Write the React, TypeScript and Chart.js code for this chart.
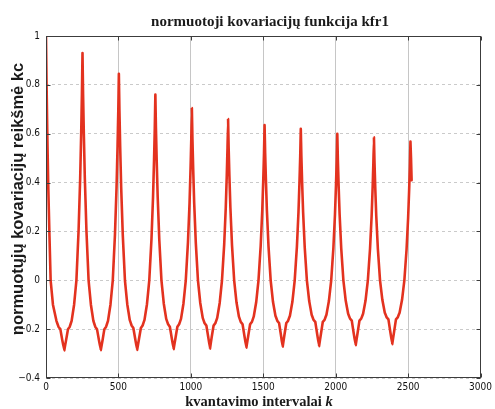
import { useEffect, useRef } from 'react';
import { Chart, registerables } from 'chart.js';

Chart.register(...registerables);

const chartTitle = 'normuotoji kovariacijų funkcija kfr1';
const xAxisLabel = 'kvantavimo intervalai ';
const xAxisVar = 'k';
const yAxisLabel = 'normuotųjų kovariacijų reikšmė kc';

const xTicks = [0, 500, 1000, 1500, 2000, 2500, 3000];
const yTicks = [-0.4, -0.2, 0, 0.2, 0.4, 0.6, 0.8, 1];
const yTickLabels = ['−0.4', '−0.2', '0', '0.2', '0.4', '0.6', '0.8', '1'];

// lag k (quantisation intervals)
const kValues = [
  0, 4, 9, 15, 24, 32, 48, 72, 86, 99, 112, 126, 139, 152, 164, 177, 194, 210, 225, 236, 243, 248,
  252, 256, 261, 268, 279, 294, 310, 327, 340, 352, 365, 378, 391, 403, 415, 428, 445, 461, 476, 487, 494, 499,
  503, 507, 512, 519, 530, 545, 561, 578, 591, 603, 616, 629, 642, 655, 667, 680, 697, 713, 728, 739, 746, 751,
  755, 759, 764, 771, 782, 797, 813, 830, 843, 855, 868, 881, 894, 907, 919, 932, 949, 965, 980, 991, 998, 1003,
  1007, 1011, 1016, 1023, 1034, 1049, 1065, 1082, 1095, 1107, 1120, 1132, 1144, 1157, 1169, 1182, 1199, 1215, 1230, 1241, 1248, 1253,
  1257, 1261, 1266, 1273, 1284, 1299, 1315, 1332, 1345, 1357, 1370, 1383, 1396, 1409, 1421, 1434, 1451, 1467, 1482, 1493, 1500, 1505,
  1509, 1513, 1518, 1525, 1536, 1551, 1567, 1584, 1597, 1609, 1622, 1634, 1646, 1659, 1671, 1684, 1701, 1717, 1732, 1743, 1750, 1755,
  1759, 1763, 1768, 1775, 1786, 1801, 1817, 1834, 1847, 1859, 1872, 1885, 1898, 1911, 1923, 1936, 1953, 1969, 1984, 1995, 2002, 2007,
  2011, 2015, 2020, 2027, 2038, 2053, 2069, 2086, 2099, 2111, 2124, 2138, 2151, 2164, 2176, 2189, 2206, 2222, 2237, 2248, 2255, 2260,
  2264, 2268, 2273, 2280, 2291, 2306, 2322, 2339, 2352, 2364, 2377, 2390, 2403, 2416, 2428, 2441, 2458, 2474, 2489, 2500, 2507, 2512,
  2516, 2520, 2524,
];

// normalised covariance kc
const kcValues = [
  1, 0.8, 0.6, 0.4, 0.18, 0, -0.1, -0.166, -0.19, -0.2, -0.244, -0.287, -0.244, -0.2, -0.19, -0.166, -0.1, 0, 0.205, 0.419, 0.605, 0.763,
  0.93, 0.763, 0.605, 0.419, 0.205, 0, -0.1, -0.166, -0.19, -0.2, -0.243, -0.286, -0.243, -0.2, -0.19, -0.166, -0.1, 0, 0.186, 0.38, 0.549, 0.693,
  0.845, 0.693, 0.549, 0.38, 0.186, 0, -0.098, -0.162, -0.185, -0.195, -0.24, -0.285, -0.24, -0.195, -0.185, -0.162, -0.098, 0, 0.167, 0.342, 0.494, 0.623,
  0.76, 0.623, 0.494, 0.342, 0.167, 0, -0.095, -0.158, -0.18, -0.19, -0.236, -0.282, -0.236, -0.19, -0.18, -0.158, -0.095, 0, 0.155, 0.317, 0.458, 0.578,
  0.705, 0.578, 0.458, 0.317, 0.155, 0, -0.093, -0.154, -0.176, -0.185, -0.232, -0.28, -0.232, -0.185, -0.176, -0.154, -0.093, 0, 0.145, 0.297, 0.429, 0.541,
  0.66, 0.541, 0.429, 0.297, 0.145, 0, -0.09, -0.149, -0.171, -0.18, -0.228, -0.276, -0.228, -0.18, -0.171, -0.149, -0.09, 0, 0.14, 0.286, 0.413, 0.521,
  0.635, 0.521, 0.413, 0.286, 0.14, 0, -0.088, -0.145, -0.166, -0.175, -0.224, -0.272, -0.224, -0.175, -0.166, -0.145, -0.088, 0, 0.136, 0.279, 0.403, 0.508,
  0.62, 0.508, 0.403, 0.279, 0.136, 0, -0.085, -0.141, -0.162, -0.17, -0.22, -0.27, -0.22, -0.17, -0.162, -0.141, -0.085, 0, 0.132, 0.27, 0.39, 0.492,
  0.6, 0.492, 0.39, 0.27, 0.132, 0, -0.083, -0.137, -0.157, -0.165, -0.216, -0.266, -0.216, -0.165, -0.157, -0.137, -0.083, 0, 0.129, 0.263, 0.38, 0.48,
  0.585, 0.48, 0.38, 0.263, 0.129, 0, -0.08, -0.133, -0.152, -0.16, -0.211, -0.262, -0.211, -0.16, -0.152, -0.133, -0.08, 0, 0.125, 0.256, 0.369, 0.466,
  0.568, 0.5, 0.41,
];

const tickFont = "'Liberation Sans Narrow', 'Arial Narrow', 'DejaVu Sans Condensed', 'Liberation Sans', Arial, sans-serif";
const serif = "'Liberation Serif', 'Times New Roman', serif";

export default function App() {
  const ref = useRef<HTMLCanvasElement>(null);

  useEffect(() => {
    const canvas = ref.current;
    if (!canvas) return;

    const framePlugin = {
      id: 'matlabFrame',
      afterDraw(chart: any) {
        const { ctx, chartArea: a, scales } = chart;
        ctx.save();
        const L = Math.round(a.left) + 0.5;
        const R = Math.round(a.right) - 0.5;
        const T = Math.round(a.top) + 0.5;
        const B = Math.round(a.bottom) - 0.5;
        ctx.strokeStyle = '#3c3c3c';
        ctx.lineWidth = 1;
        ctx.strokeRect(L, T, R - L, B - T);
        ctx.beginPath();
        for (const v of xTicks) {
          const x = Math.round(scales.x.getPixelForValue(v)) + 0.5;
          ctx.moveTo(x, B);
          ctx.lineTo(x, B - 4);
          ctx.moveTo(x, T);
          ctx.lineTo(x, T + 4);
        }
        for (const v of yTicks) {
          const y = Math.round(scales.y.getPixelForValue(v)) + 0.5;
          ctx.moveTo(L, y);
          ctx.lineTo(L + 4, y);
          ctx.moveTo(R, y);
          ctx.lineTo(R - 4, y);
        }
        ctx.stroke();

        ctx.fillStyle = '#1a1a1a';
        ctx.textBaseline = 'middle';
        // title
        ctx.font = `bold 15px ${serif}`;
        ctx.textAlign = 'center';
        ctx.fillText(chartTitle, 270, 22);

        // x label with italic variable
        ctx.textAlign = 'left';
        ctx.font = `bold 14.5px ${serif}`;
        const w1 = ctx.measureText(xAxisLabel).width;
        ctx.font = `bold italic 14.5px ${serif}`;
        const w2 = ctx.measureText(xAxisVar).width;
        const x0 = 259 - (w1 + w2) / 2;
        ctx.font = `bold 14.5px ${serif}`;
        ctx.fillText(xAxisLabel, x0, 402);
        ctx.font = `bold italic 14.5px ${serif}`;
        ctx.fillText(xAxisVar, x0 + w1, 402);

        // y label
        ctx.save();
        ctx.translate(18, 199);
        ctx.rotate(-Math.PI / 2);
        ctx.textAlign = 'center';
        ctx.font = "bold 16.5px 'Liberation Sans', Arial, sans-serif";
        ctx.fillText(yAxisLabel, 0, 0);
        ctx.restore();

        ctx.restore();
      },
    };

    const points = kValues.map((k, i) => ({ x: k, y: kcValues[i] }));

    const chart = new Chart(canvas, {
      type: 'line',
      data: {
        datasets: [
          {
            data: points,
            borderColor: '#e3321f',
            borderWidth: 2.6,
            pointRadius: 0,
            tension: 0.0001,
            fill: false,
            borderJoinStyle: 'round',
            borderCapStyle: 'round',
          },
        ],
      },
      options: {
        animation: false,
        responsive: false,
        maintainAspectRatio: false,
        layout: { padding: { top: 36, right: 13, bottom: 0, left: 0 } },
        plugins: {
          legend: { display: false },
          tooltip: { enabled: false },
          title: { display: false },
        },
        scales: {
          x: {
            type: 'linear',
            min: 0,
            max: 3000,
            afterFit: (s: any) => {
              s.height = 31;
            },
            afterBuildTicks: (s: any) => {
              s.ticks = xTicks.map((v) => ({ value: v }));
            },
            ticks: {
              autoSkip: false,
              maxRotation: 0,
              padding: 3,
              color: '#111',
              font: { family: tickFont, size: 10 },
              callback: (v: any) => String(v),
            },
            grid: { color: '#c6c6c6', lineWidth: 1, drawTicks: false },
            border: { display: false },
          },
          y: {
            type: 'linear',
            min: -0.4,
            max: 1,
            afterFit: (s: any) => {
              s.width = 46;
            },
            afterBuildTicks: (s: any) => {
              s.ticks = yTicks.map((v) => ({ value: v }));
            },
            ticks: {
              padding: 6,
              color: '#111',
              font: { family: tickFont, size: 10 },
              callback: (_v: any, i: number) => yTickLabels[i],
            },
            grid: { color: '#cacaca', lineWidth: 1, drawTicks: false },
            border: { display: false, dash: [3, 3] },
          },
        },
      },
      plugins: [framePlugin],
    });

    return () => chart.destroy();
  }, []);

  return (
    <div style={{ position: 'fixed', left: 0, top: 0, width: 495, height: 409, background: '#fff' }}>
      <canvas ref={ref} width={495} height={409} style={{ display: 'block' }} />
    </div>
  );
}
